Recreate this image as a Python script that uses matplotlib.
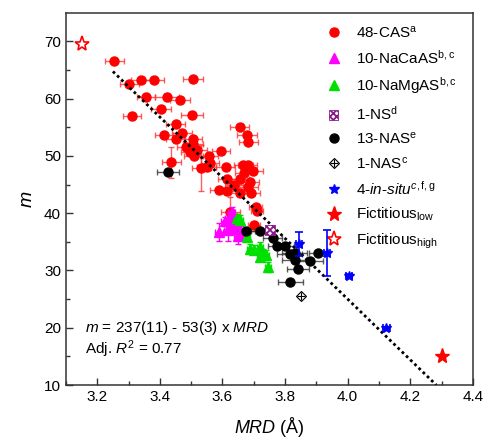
import numpy as np
import matplotlib
matplotlib.use('Agg')
import matplotlib.pyplot as plt
from matplotlib.lines import Line2D

plt.rcParams['font.family'] = ['Liberation Sans', 'DejaVu Sans']
plt.rcParams['mathtext.fontset'] = 'custom'
plt.rcParams['mathtext.rm'] = 'Liberation Sans'
plt.rcParams['mathtext.it'] = 'Liberation Sans:italic'
plt.rcParams['hatch.linewidth'] = 1.3

# 48-CAS
cas_x = [3.255, 3.302, 3.340, 3.382, 3.505, 3.356, 3.423, 3.465, 3.404, 3.310,
         3.503, 3.451, 3.413, 3.472, 3.450, 3.506, 3.506, 3.496, 3.508, 3.557,
         3.595, 3.560, 3.533, 3.437, 3.550, 3.610, 3.655, 3.677, 3.683, 3.666,
         3.680, 3.698, 3.655, 3.615, 3.637, 3.589, 3.615, 3.682, 3.690, 3.706,
         3.700, 3.670, 3.688, 3.485, 3.520, 3.655, 3.625, 3.710]
cas_y = [66.5, 62.5, 63.3, 63.2, 63.5, 60.3, 60.3, 59.8, 58.2, 57.0,
         57.2, 55.5, 53.7, 54.0, 52.9, 53.0, 52.0, 50.7, 50.0, 50.0,
         50.9, 48.7, 47.9, 48.9, 48.0, 48.0, 55.0, 53.7, 52.4, 48.4,
         48.5, 47.3, 46.0, 46.0, 45.0, 44.0, 43.9, 44.6, 43.6, 41.0,
         37.9, 47.0, 45.5, 51.5, 51.0, 43.5, 40.2, 40.4]
cas_xerr = [0.029, 0.030, 0.032, 0.030, 0.032, 0.030, 0.037, 0.032, 0.031, 0.029,
            0.034, 0.030, 0.030, 0.032, 0.030, 0.030, 0.032, 0.030, 0.030, 0.030,
            0.030, 0.030, 0.030, 0.030, 0.030, 0.030, 0.030, 0.032, 0.030, 0.030,
            0.030, 0.030, 0.030, 0.030, 0.030, 0.030, 0.030, 0.030, 0.030, 0.020,
            0.020, 0.030, 0.030, 0.030, 0.030, 0.030, 0.030, 0.020]
cas_yerr = [0.5, 0.5, 0.5, 0.5, 0.5, 0.5, 0.5, 0.5, 0.5, 0.5,
            0.5, 0.5, 0.5, 0.5, 0.5, 0.5, 0.5, 0.5, 0.5, 0.5,
            0.5, 0.5, 4.0, 2.7, 0.5, 0.5, 0.5, 0.5, 0.5, 0.5,
            0.5, 0.5, 0.5, 0.5, 0.5, 0.5, 0.5, 0.5, 0.5, 0.5,
            0.5, 0.5, 0.5, 0.5, 0.5, 0.5, 2.6, 0.5]

# 10-NaCaAS
naca_x = [3.589, 3.618, 3.650, 3.624, 3.629, 3.621, 3.642, 3.634, 3.608, 3.660]
naca_y = [36.7, 37.0, 36.0, 37.9, 40.2, 39.1, 38.3, 37.3, 38.6, 36.8]
naca_yerr = [1.6, 1.8, 1.3, 1.0, 0.8, 1.0, 0.8, 1.0, 0.8, 1.0]

# 10-NaMgAS
namg_x = [3.645, 3.655, 3.677, 3.687, 3.700, 3.720, 3.720, 3.740, 3.746, 3.730]
namg_y = [39.1, 38.8, 35.9, 33.8, 33.6, 34.1, 32.4, 32.7, 30.6, 33.0]
namg_yerr = [0.8, 0.8, 0.8, 0.8, 0.8, 0.8, 0.8, 0.8, 0.8, 0.8]

# 1-NS
ns_x = [3.753]
ns_y = [37.05]

# 13-NAS
nas_x = [3.426, 3.674, 3.720, 3.760, 3.775, 3.800, 3.831, 3.831, 3.841, 3.881,
         3.905, 3.817, 3.815]
nas_y = [47.25, 36.9, 36.9, 35.6, 34.3, 34.3, 33.0, 31.8, 30.3, 31.7,
         33.0, 27.9, 32.8]
nas_xerr = [0.035, 0.03, 0.03, 0.03, 0.03, 0.03, 0.04, 0.04, 0.035, 0.04,
            0.03, 0.04, 0.04]

# 1-NAS
nas1_x = [3.850]
nas1_y = [25.6]

# 4-in-situ
insitu_x = [3.845, 3.934, 4.004, 4.124]
insitu_y = [34.6, 33.0, 29.0, 20.0]
insitu_yerr = [2.1, 4.0, 0.3, 0.2]

# fictitious points
fict_low = (4.30, 15.0)
fict_high = (3.15, 69.6)

# linear fit m = a + b*MRD
fit_a, fit_b = 237, -53
fit_range = [3.25, 4.283]

fig = plt.figure(figsize=(4.85, 4.4), dpi=100)
ax = fig.add_axes([0.136, 0.125, 0.839, 0.846])

fx = np.array(fit_range)
ax.plot(fx, fit_a + fit_b * fx, color='black', linestyle=(0, (1, 1.1)),
        linewidth=2, zorder=5)

ax.errorbar(cas_x, cas_y, xerr=cas_xerr, yerr=cas_yerr, fmt='o', color='red',
            ecolor=(1, 0.2, 0.2, 0.8), markersize=6.5, capsize=2.5,
            elinewidth=1, capthick=1, zorder=3)
ax.errorbar(naca_x, naca_y, xerr=0.012, yerr=naca_yerr, fmt='^', color='magenta',
            markersize=6.5, capsize=2.5, elinewidth=1, capthick=1, zorder=4)
ax.errorbar(namg_x, namg_y, xerr=0.01, yerr=namg_yerr, fmt='^', color='#00e000',
            markersize=6.5, capsize=2.5, elinewidth=1, capthick=1, zorder=4)
ns_style = dict(marker='s', s=50, facecolor='white', edgecolor='#8b1a8b',
                hatch='xxxxx', linewidth=0.6)
ax.scatter(ns_x, ns_y, zorder=6, **ns_style)
ax.errorbar(nas_x, nas_y, xerr=nas_xerr, yerr=0.3, fmt='o', color='black',
            ecolor=(0.2, 0.2, 0.2, 0.8), markersize=6.5, capsize=2.5,
            elinewidth=1, capthick=1, zorder=4)
ax.plot(nas1_x, nas1_y, 'D', markerfacecolor='none', markeredgecolor='black',
        markersize=5, markeredgewidth=0.8, zorder=6)
ax.plot(nas1_x, nas1_y, '+', color='black', markersize=6, markeredgewidth=0.8, zorder=6)
ax.errorbar(insitu_x, insitu_y, xerr=0.01, yerr=insitu_yerr, fmt='*', color='blue',
            markersize=7, capsize=3, elinewidth=1.2, capthick=1.2, zorder=6)
ax.plot(*fict_low, '*', color='red', markersize=11, zorder=6)
ax.plot(*fict_high, '*', markerfacecolor='white', markeredgecolor='red',
        markersize=11, markeredgewidth=1.2, zorder=6)

ax.set_xlim(3.1, 4.4)
ax.set_ylim(10, 75)
ax.set_xticks([3.2, 3.4, 3.6, 3.8, 4.0, 4.2, 4.4])
ax.set_xticklabels(['3.2', '3.4', '3.6', '3.8', '4.0', '4.2', '4.4'])
ax.set_xticks(np.arange(3.1, 4.41, 0.1), minor=True)
ax.set_yticks([10, 20, 30, 40, 50, 60, 70])
ax.set_yticks(np.arange(15, 75, 5), minor=True)
ax.tick_params(which='both', direction='in', labelsize=11, top=False, right=False,
               color='#333333')
ax.tick_params(which='major', length=5, width=1)
ax.tick_params(which='minor', length=3, width=1)
for sp in ax.spines.values():
    sp.set_color('#333333')
    sp.set_linewidth(1.1)
ax.set_xlabel('$MRD$ (Å)', fontsize=13, labelpad=8)
ax.set_ylabel('$m$', fontsize=14, labelpad=6)

ax.text(3.16, 20, '$m$ = 237(11) - 53(3) x $MRD$', fontsize=11, va='center')
ax.text(3.16, 16.2, 'Adj. $R^2$ = 0.77', fontsize=11, va='center')

handles = [
    Line2D([], [], marker='o', color='red', linestyle='none', markersize=6.5),
    Line2D([], [], marker='^', color='magenta', linestyle='none', markersize=7),
    Line2D([], [], marker='^', color='#00e000', linestyle='none', markersize=7),
    ax.scatter([], [], **ns_style),
    Line2D([], [], marker='o', color='black', linestyle='none', markersize=6.5),
    (Line2D([], [], marker='D', markerfacecolor='none', markeredgecolor='black',
            linestyle='none', markersize=5, markeredgewidth=0.8),
     Line2D([], [], marker='+', color='black', linestyle='none', markersize=6,
            markeredgewidth=0.8)),
    Line2D([], [], marker='*', color='blue', linestyle='none', markersize=7),
    Line2D([], [], marker='*', color='red', linestyle='none', markersize=11),
    Line2D([], [], marker='*', markerfacecolor='white', markeredgecolor='red',
           linestyle='none', markersize=11, markeredgewidth=1.2),
]
labels = ['48-CAS$^{\\mathrm{a}}$', '10-NaCaAS$^{\\mathrm{b,c}}$',
          '10-NaMgAS$^{\\mathrm{b,c}}$', '1-NS$^{\\mathrm{d}}$',
          '13-NAS$^{\\mathrm{e}}$', '1-NAS$^{\\mathrm{c}}$',
          '4-$\\it{in}$-$\\it{situ}^{c,\\mathrm{f,g}}$',
          'Fictitious$_{\\mathrm{low}}$', 'Fictitious$_{\\mathrm{high}}$']
ax.legend(handles, labels, loc='upper left', bbox_to_anchor=(0.62, 0.985),
          frameon=False, fontsize=11, handlelength=1.2, handletextpad=0.9,
          labelspacing=0.55, borderaxespad=0)

fig.savefig('out.png', dpi=100)
